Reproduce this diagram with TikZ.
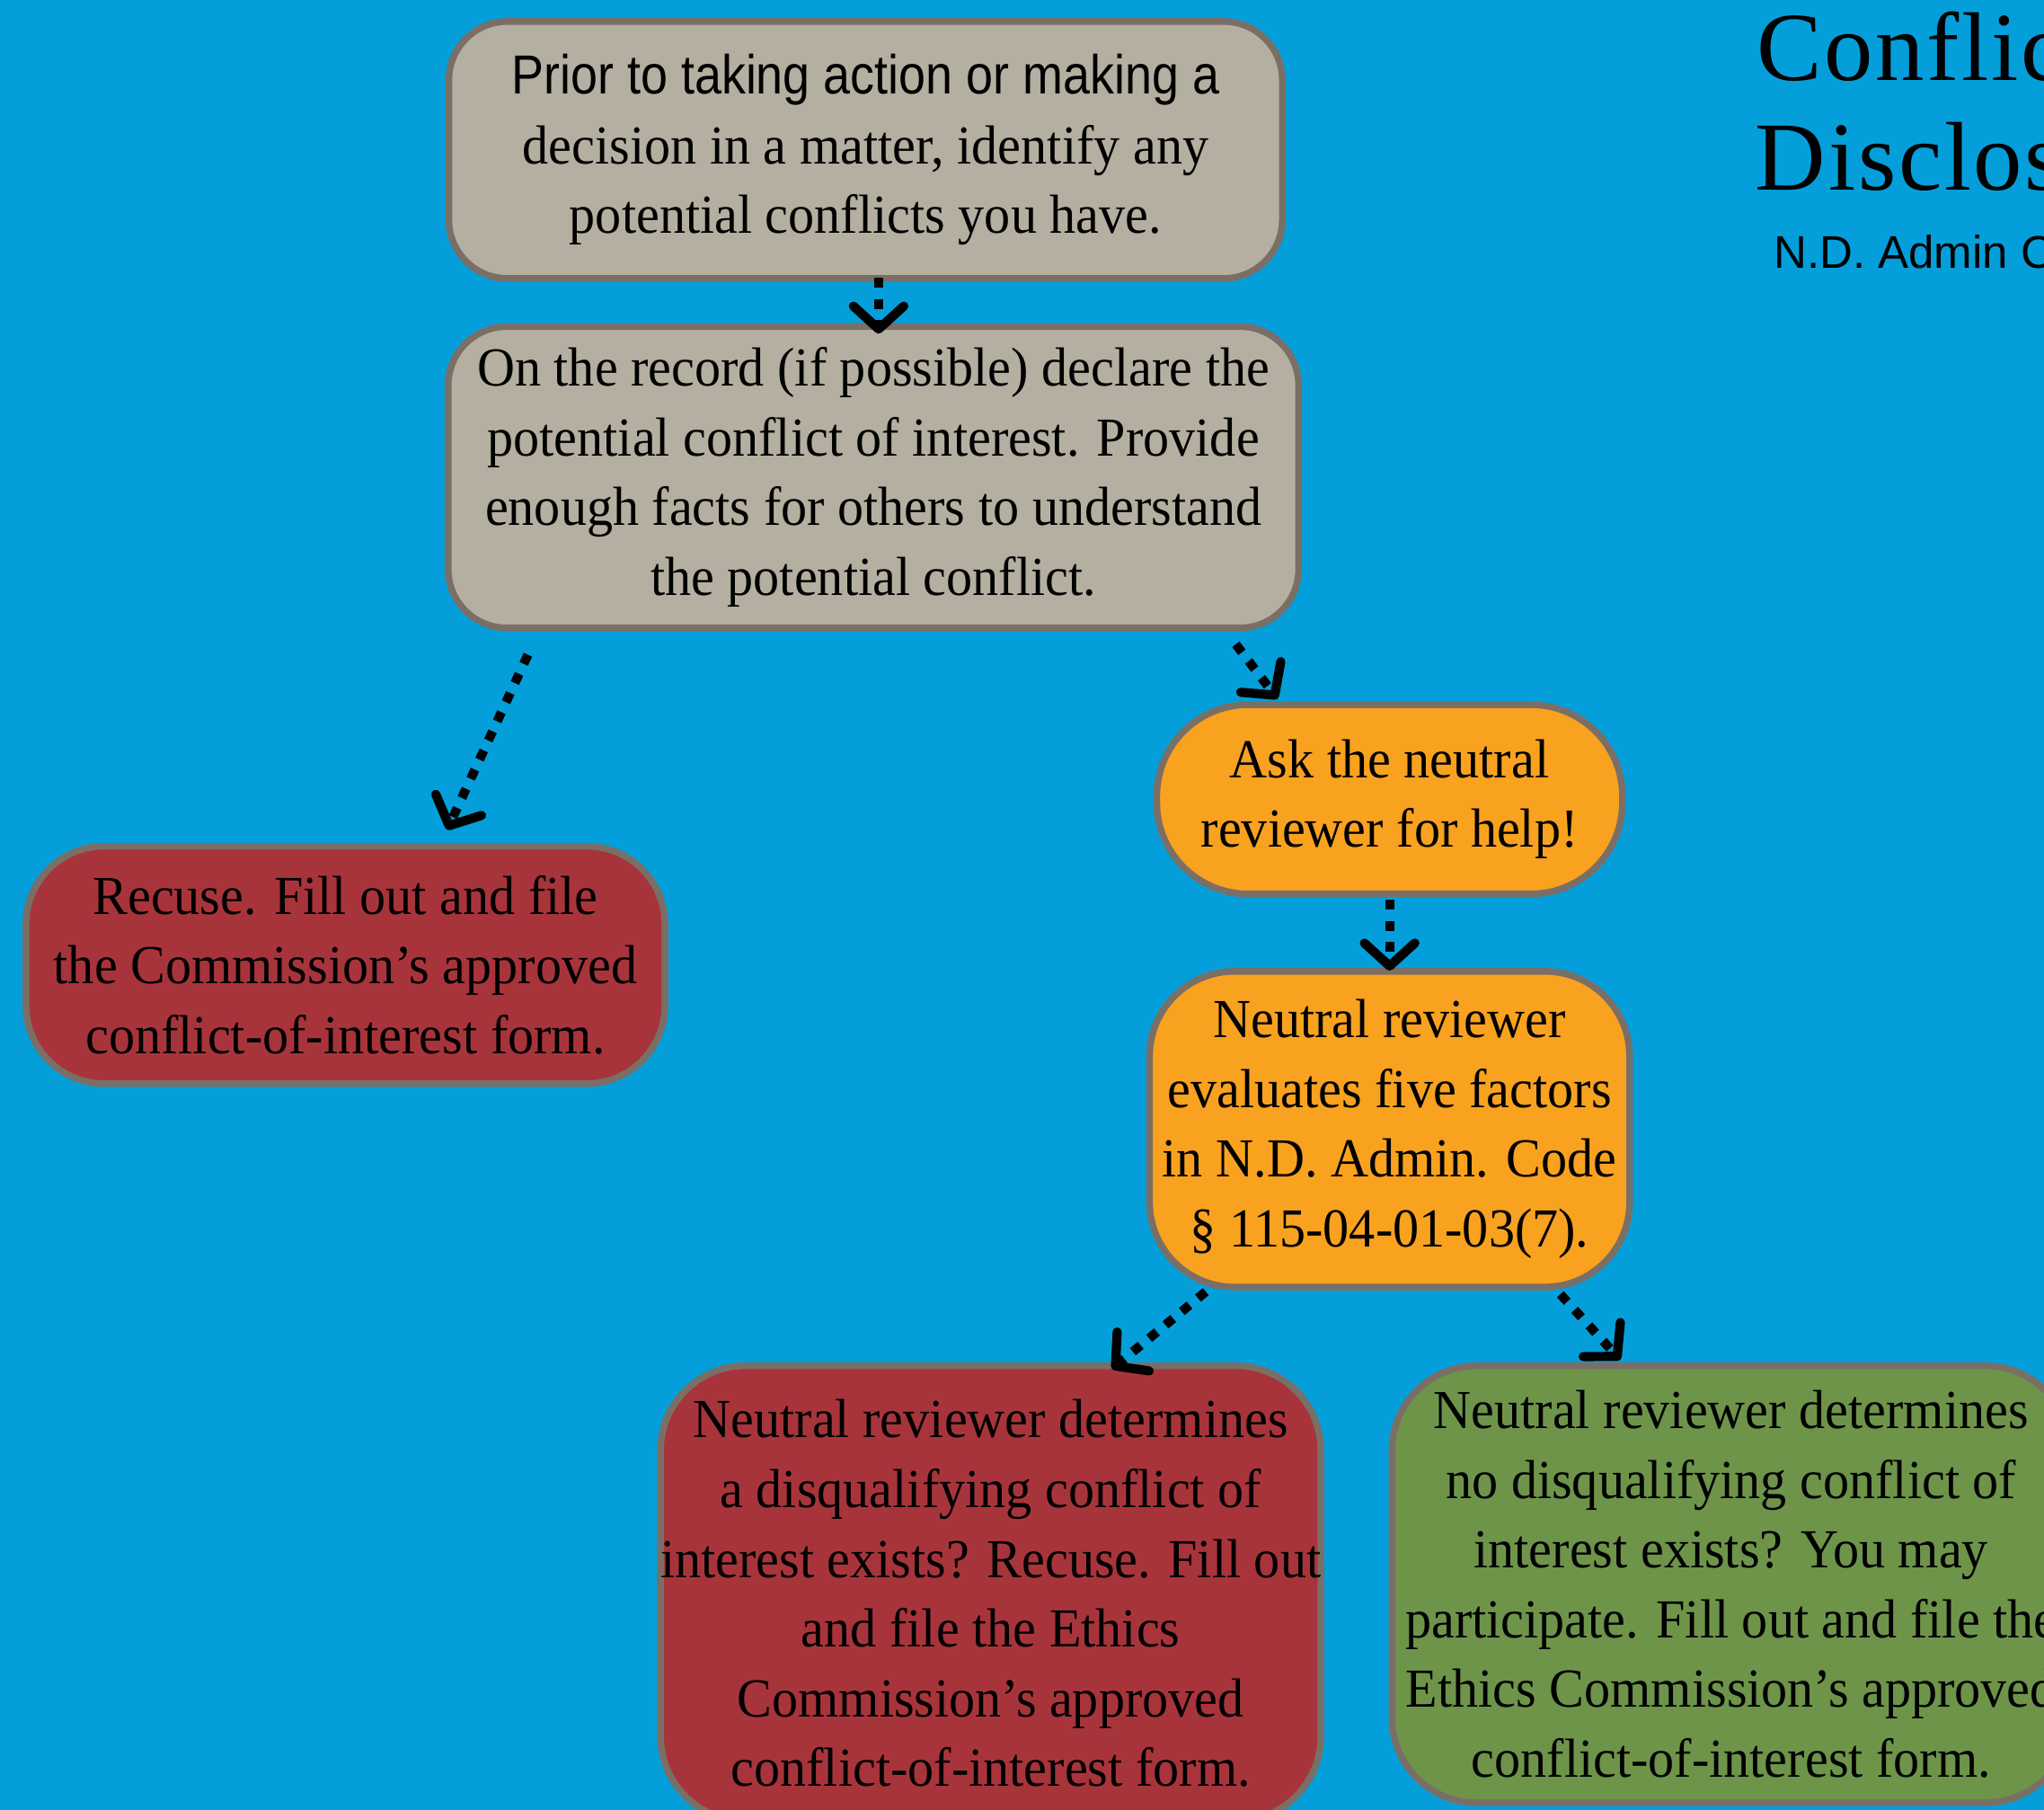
\documentclass[tikz,border=0pt]{standalone}
\usepackage{fontspec}
\setmainfont{Liberation Serif}[FakeStretch=0.95]
\newfontfamily\titlefont{Liberation Serif}[LetterSpace=2.5]
\newfontfamily\subfont{Liberation Sans}
\newfontfamily\sansf{Liberation Sans}[FakeStretch=0.88]
\usetikzlibrary{arrows.meta}
\definecolor{bgblue}{RGB}{4,159,218}
\definecolor{greyf}{RGB}{181,175,161}
\definecolor{bordc}{RGB}{122,111,102}
\definecolor{redf}{RGB}{168,52,59}
\definecolor{orangef}{RGB}{249,162,31}
\definecolor{greenf}{RGB}{110,148,74}
\tikzset{
  box/.style={draw=bordc, line width=1.45pt, inner sep=0pt, align=center,
    font=\fontsize{12}{15.2}\selectfont, text=black},
  flow/.style={line width=2pt, dash pattern=on 2.2pt off 2.4pt, black,
    -{Straight Barb[length=5pt,width=11pt,round]}}
}
\begin{document}
\begin{tikzpicture}[x=0.01cm,y=-0.01cm]
\clip (0,0) rectangle (1568,1388);
\fill[bgblue] (0,0) rectangle (1568,1388);

\node[box, fill=greyf, minimum width=6.39cm, minimum height=1.97cm, rounded corners=0.45cm] (b1) at (664,115)
  {{\sansf Prior to taking action or making a}\\decision in a matter, identify any\\potential conflicts you have.};
\node[box, fill=greyf, minimum width=6.52cm, minimum height=2.31cm, rounded corners=0.45cm] (b2) at (670,366)
  {On the record (if possible) declare the\\potential conflict of interest. Provide\\enough facts for others to understand\\the potential conflict.};
\node[box, fill=redf, minimum width=4.9cm, minimum height=1.82cm, rounded corners=0.6cm] (b3) at (265,740)
  {Recuse. Fill out and file\\the Commission’s approved\\conflict-of-interest form.};
\node[box, fill=orangef, minimum width=3.57cm, minimum height=1.45cm, rounded corners=0.7cm] (b4) at (1066,613)
  {Ask the neutral\\reviewer for help!};
\node[box, fill=orangef, minimum width=3.68cm, minimum height=2.42cm, rounded corners=0.65cm] (b5) at (1066,866)
  {Neutral reviewer\\evaluates five factors\\in N.D. Admin. Code\\§ 115-04-01-03(7).};
\node[box, fill=redf, minimum width=5.0cm, minimum height=3.49cm, rounded corners=0.65cm] (b6) at (760,1222)
  {Neutral reviewer determines\\a disqualifying conflict of\\interest exists? Recuse. Fill out\\and file the Ethics\\Commission’s approved\\conflict-of-interest form.};
\node[box, fill=greenf, minimum width=5.2cm, minimum height=3.35cm, rounded corners=0.65cm] (b7) at (1328,1215)
  {Neutral reviewer determines\\no disqualifying conflict of\\interest exists? You may\\participate. Fill out and file the\\Ethics Commission’s approved\\conflict-of-interest form.};

\node[anchor=base west, inner sep=0pt, font=\titlefont\fontsize{21.3}{24}\selectfont] (t1) at (1347,62) {Conflict of Interest};
\node[anchor=base west, inner sep=0pt, font=\titlefont\fontsize{21.3}{24}\selectfont] (t2) at (1346,146) {Disclosure};
\node[anchor=base west, inner sep=0pt, font=\subfont\fontsize{10}{12}\selectfont] (t3) at (1360,206) {N.D. Admin Code};

\draw[flow] ([shift={(10,-3)}]b1.south) -- ([shift={(4,8)}]b2.north);
\draw[flow] ([shift={(-265,18)}]b2.south) -- ([shift={(78,-10)}]b3.north);
\draw[flow] ([shift={(278,10)}]b2.south) -- ([shift={(-86,-2)}]b4.north);
\draw[flow] ([shift={(0,2)}]b4.south) -- ([shift={(0,2)}]b5.north);
\draw[flow] ([shift={(-141,1)}]b5.south) -- ([shift={(93,5)}]b6.north);
\draw[flow] ([shift={(131,3)}]b5.south) -- ([shift={(-85,-2)}]b7.north);
\end{tikzpicture}
\end{document}
